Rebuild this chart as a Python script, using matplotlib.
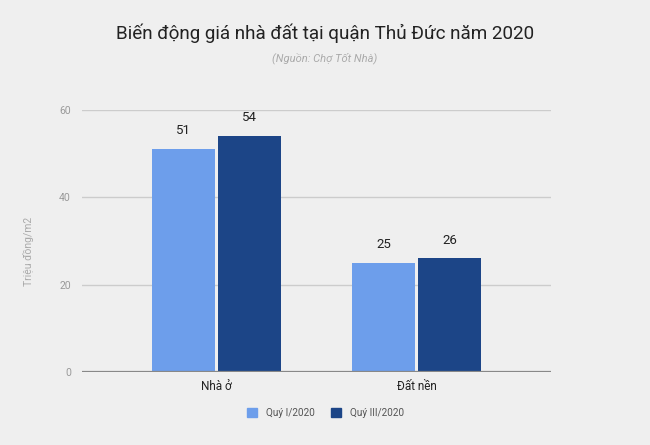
import matplotlib
matplotlib.use("Agg")
import matplotlib.pyplot as plt
import numpy as np
from matplotlib.patches import Patch

categories = ["Nhà ở", "Đất nền"]
series_names = ["Quý I/2020", "Quý III/2020"]
q1_values = [51, 25]
q3_values = [54, 26]
y_ticks = [0, 20, 40, 60]

plt.rcParams['font.family'] = ['Roboto', 'DejaVu Sans']

bg = "#efefef"
c_light = "#6d9eeb"
c_dark = "#1c4587"

fig = plt.figure(figsize=(6.5, 4.45), dpi=100, facecolor=bg)
ax = fig.add_axes([82/650, 1-372/445, (551-82)/650, (372-110)/445], facecolor=bg)

x = np.arange(len(categories))
w = 0.315
off = 0.165
b1 = ax.bar(x - off, q1_values, width=w, color=c_light, zorder=3)
b2 = ax.bar(x + off, q3_values, width=w, color=c_dark, zorder=3)

for bars, vals in ((b1, q1_values), (b2, q3_values)):
    for b, v in zip(bars, vals):
        ax.annotate(str(v), (b.get_x() + b.get_width()/2, v), xytext=(0, 8.5),
                    textcoords="offset points", ha="center", va="bottom",
                    fontsize=9.5, color="#222222")

ax.set_xlim(-0.6725, 1.6725)
ax.set_ylim(0, 60)
ax.set_yticks(y_ticks)
ax.set_yticklabels([str(t) for t in y_ticks])
ax.set_xticks(x)
ax.set_xticklabels(categories)
ax.tick_params(axis='y', length=0, pad=8, labelsize=7.5, labelcolor="#999999")
ax.tick_params(axis='x', length=0, pad=6, labelsize=8.5, labelcolor="#222222")
ax.grid(axis='y', color="#cccccc", linewidth=1, zorder=0)
for s in ax.spines.values():
    s.set_visible(False)
ax.axhline(0, color="#888888", linewidth=1.6, zorder=4)

ax.set_ylabel("Triệu đồng/m2", fontsize=7.5, color="#aaaaaa")
ax.yaxis.set_label_coords(-0.102, 0.462)

fig.text(0.5, 1-33/445, "Biến động giá nhà đất tại quận Thủ Đức năm 2020",
         ha="center", va="center", fontsize=13.6, color="#222222")
fig.text(0.5, 1-58/445, "(Nguồn: Chợ Tốt Nhà)", ha="center", va="center",
         fontsize=8, color="#aaaaaa", style="italic")

handles = [Patch(facecolor=c_light, edgecolor=c_light), Patch(facecolor=c_dark, edgecolor=c_dark)]
fig.legend(handles, series_names, loc="center", bbox_to_anchor=(326/650, 1-413/445),
           ncol=2, frameon=False, fontsize=7.2, labelcolor="#555555",
           handlelength=1.0, handleheight=1.0, handletextpad=0.9, columnspacing=1.6)

fig.savefig("out.png", dpi=100, facecolor=bg)
